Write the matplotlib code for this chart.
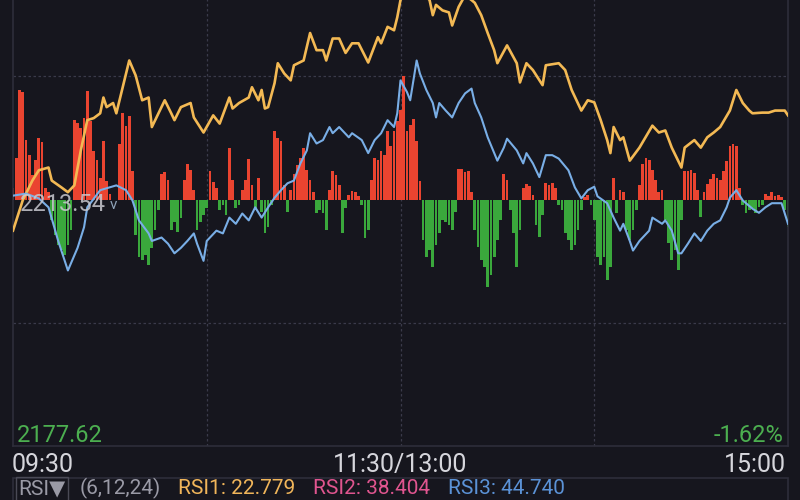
import matplotlib.pyplot as plt
from matplotlib.patches import Rectangle

plt.rcParams['font.family'] = ['Roboto', 'DejaVu Sans']

# axis anchors
prev_close = 2213.54
low_price = 2177.62
pct_text = "-1.62%"
time_labels = ["09:30", "11:30/13:00", "15:00"]
rsi_head = ["RSI\u25BC", "(6,12,24)"]
rsi_labels = ["RSI1: 22.779", "RSI2: 38.404", "RSI3: 44.740"]

# orange line (minute, price)
price_min = [0, 3, 6, 8, 11, 12, 15, 17, 19, 21, 23, 25, 27, 28, 29, 31, 32, 36, 38, 40,
             42, 43, 47, 49, 50, 52, 55, 56, 59, 62, 64, 67, 68, 70, 73, 74, 76, 77, 78, 79,
             81, 82, 84, 86, 87, 90, 92, 94, 96, 97, 99, 101, 103, 105, 107, 110, 113, 114, 116, 118,
             119, 120, 123, 126, 129, 130, 131, 133, 135, 136, 138, 140, 142, 143, 145, 147, 149, 150, 153, 156,
             157, 159, 161, 164, 165, 169, 171, 173, 176, 178, 180, 182, 184, 185, 186, 188, 189, 191, 194, 198,
             200, 202, 204, 207, 208, 211, 213, 215, 217, 219, 222, 224, 226, 228, 229, 232, 234, 236, 239, 240]
price_val = [2209.0, 2213.4, 2216.3, 2217.8, 2218.2, 2216.3, 2215.3, 2214.6, 2215.6, 2220.7,
             2225.1, 2225.4, 2226.1, 2228.4, 2227.0, 2227.6, 2226.1, 2233.8, 2231.6, 2228.0,
             2228.4, 2224.1, 2228.0, 2226.1, 2225.1, 2227.0, 2227.6, 2225.5, 2223.3, 2225.8,
             2224.6, 2228.4, 2226.8, 2227.6, 2228.4, 2229.9, 2228.0, 2229.5, 2226.8, 2227.0,
             2230.5, 2233.4, 2231.9, 2230.9, 2233.1, 2233.8, 2237.8, 2235.3, 2235.3, 2233.8,
             2237.0, 2237.0, 2234.9, 2236.3, 2236.3, 2233.5, 2237.2, 2236.3, 2238.7, 2238.2,
             2240.1, 2242.6, 2244.8, 2244.1, 2242.6, 2240.4, 2241.9, 2241.1, 2240.8, 2238.9,
             2241.6, 2243.3, 2242.6, 2242.2, 2240.4, 2237.8, 2235.3, 2233.4, 2236.0, 2233.4,
             2230.6, 2233.4, 2232.4, 2230.2, 2233.1, 2233.4, 2232.4, 2229.5, 2226.5, 2228.0,
             2227.7, 2225.1, 2222.2, 2220.3, 2224.1, 2222.2, 2222.6, 2219.2, 2221.1, 2224.3,
             2223.3, 2223.6, 2221.1, 2218.2, 2221.1, 2222.2, 2221.1, 2222.6, 2223.3, 2224.1,
             2226.5, 2229.5, 2227.6, 2226.5, 2226.1, 2226.2, 2226.2, 2226.5, 2226.5, 2225.8]

# blue line (minute, price)
avg_min = [0, 4, 8, 11, 14, 17, 20, 22, 23, 27, 32, 35, 37, 39, 42, 43, 46, 48, 50, 52,
           54, 56, 57, 59, 60, 63, 65, 67, 69, 71, 73, 75, 77, 79, 81, 83, 85, 87, 89, 91,
           92, 94, 96, 98, 99, 101, 104, 105, 108, 110, 112, 114, 116, 118, 119, 120, 122, 123, 125, 126,
           128, 130, 131, 132, 134, 136, 138, 140, 142, 143, 145, 147, 150, 152, 153, 156, 158, 159, 161, 163,
           165, 167, 169, 172, 174, 176, 178, 180, 181, 184, 186, 188, 189, 191, 192, 194, 197, 198, 201, 202,
           204, 206, 207, 209, 211, 213, 215, 217, 219, 221, 222, 224, 226, 229, 231, 233, 235, 238, 239, 240]
avg_val = [2214.1, 2214.4, 2213.7, 2212.4, 2207.5, 2203.2, 2206.5, 2209.5, 2212.4, 2214.9,
           2215.6, 2214.9, 2213.4, 2210.5, 2208.6, 2207.5, 2208.0, 2207.1, 2205.7, 2206.5,
           2207.5, 2208.6, 2207.1, 2204.6, 2207.5, 2209.0, 2208.6, 2210.9, 2210.0, 2211.5,
           2210.5, 2212.4, 2210.9, 2212.4, 2213.8, 2214.9, 2215.9, 2216.3, 2218.8, 2220.7,
           2223.2, 2221.7, 2222.2, 2224.1, 2223.2, 2224.1, 2222.6, 2223.2, 2222.2, 2220.3,
           2222.2, 2223.2, 2225.1, 2224.1, 2226.1, 2230.9, 2229.2, 2228.0, 2233.8, 2231.9,
           2229.5, 2227.6, 2225.5, 2227.6, 2226.5, 2225.5, 2227.6, 2229.0, 2229.7, 2227.6,
           2225.5, 2222.6, 2219.2, 2221.1, 2222.4, 2220.7, 2218.8, 2220.3, 2218.8, 2216.8,
           2220.0, 2220.0, 2219.5, 2217.8, 2215.3, 2213.7, 2214.9, 2215.4, 2214.0, 2213.0,
           2210.9, 2209.0, 2210.0, 2207.5, 2206.1, 2207.5, 2209.0, 2210.9, 2210.0, 2210.5,
           2209.0, 2205.7, 2205.7, 2207.1, 2208.6, 2207.5, 2209.0, 2210.0, 2210.5, 2212.4,
           2213.8, 2214.9, 2213.4, 2212.2, 2211.6, 2212.4, 2213.0, 2213.0, 2211.5, 2210.0]

# per-minute bars, positive = red, negative = green (one value per minute 0..240)
flow = [12, 42, 110, 108, 60, 45, 25, 40, 62, 58,
        12, 8, -20, -35, -45, -50, -55, -45, -30, 80,
        77, 72, 82, 109, 79, 49, 40, 22, 59, 19,
        6, 0, 0, 56, 87, 74, 84, 29, -35, -57,
        -60, -55, -65, -48, -30, -10, 26, 28, 20, -30,
        -22, -32, -18, 20, 36, 30, 10, -30, -22, -15,
        -8, 29, 18, 12, -10, -5, -15, 52, 20, -8,
        -5, 10, 20, 41, 15, -10, 22, -12, -33, -27,
        -5, 69, 62, 59, 15, -12, 10, 26, 35, 42,
        52, 30, 20, 8, -13, -10, -13, -30, 10, 29,
        25, 15, -33, -8, 5, 9, 8, 4, -5, -38,
        -30, 20, 42, 40, 49, 45, 69, 54, 69, 79,
        90, 124, 69, 75, 81, 59, 19, -40, -57, -50,
        -67, -45, -33, -20, -22, -25, -30, -12, 31, 31,
        28, 29, 8, -30, -47, -60, -67, -87, -75, -57,
        -40, -20, 26, 20, -10, -33, -67, -30, 12, 16,
        14, 5, -25, -37, -15, 17, 15, 17, 12, -5,
        -10, -33, -40, -50, -45, -30, -10, 3, 5, -5,
        -20, -57, -65, -57, -80, -67, 22, -13, 10, 8,
        -30, -40, -30, -10, 15, 36, 42, 40, 30, 20,
        8, 10, -20, -43, -60, -50, -70, -20, 29, 29,
        30, 27, 10, -17, 8, 16, 21, 26, 22, 20,
        29, 39, 54, 56, 54, 12, -5, -13, -10, -8,
        -13, -7, -5, 6, 4, 8, 4, 5, 3, -10,
        -27]

bg = '#16161e'
grid_c = '#3a3a4a'
red = '#ea4430'
green = '#3aa83c'
orange = '#f3b954'
blue = '#79aee6'

fig = plt.figure(figsize=(8, 5), dpi=100, facecolor=bg)
# panel spans x 13..788 px, bottom at 446 px, top is cut off above the picture
ax = fig.add_axes([13 / 800, 54 / 500, 775 / 800, 493 / 500])
ax.set_facecolor(bg)
half = prev_close - low_price
ax.set_xlim(0, 240)
ax.set_ylim(-246.5, 246.5)

minutes = list(range(len(flow)))
cols = [red if v > 0 else green for v in flow]
ax.bar(minutes, flow, width=0.85, color=cols, linewidth=0, zorder=2)

# grid
for gx in [60, 120, 180]:
    ax.axvline(gx, color=grid_c, lw=0.9, ls=(0, (2, 2)), zorder=1)
for gy in [123.25, -123.25]:
    ax.axhline(gy, color=grid_c, lw=0.9, ls=(0, (2, 2)), zorder=1)

ax2 = ax.twinx()
ax2.set_ylim(low_price, prev_close + half)
ax2.plot(price_min, price_val, color=orange, lw=1.9, zorder=3)
ax2.plot(avg_min, avg_val, color=blue, lw=1.5, zorder=3)

for a in (ax, ax2):
    a.set_xticks([])
    a.set_yticks([])
    for s in a.spines.values():
        s.set_visible(False)
for s in ('left', 'right', 'bottom'):
    ax.spines[s].set_visible(True)
    ax.spines[s].set_color('#2e2e3a')
    ax.spines[s].set_linewidth(1.2)

# labels
fig.text(20 / 800, 0.578, f"{prev_close:.2f}", color='#c9c9d0', fontsize=17, alpha=0.85)
fig.text(110 / 800, 0.582, "v", color='#8fa3b8', fontsize=11)
fig.text(17 / 800, 0.116, f"{low_price:.2f}", color='#4caf50', fontsize=17)
fig.text(784 / 800, 0.116, pct_text, color='#4caf50', fontsize=17, ha='right')

fig.text(12 / 800, 0.056, time_labels[0], color='#d6d6dc', fontsize=18)
fig.text(400 / 800, 0.056, time_labels[1], color='#d6d6dc', fontsize=18, ha='center')
fig.text(786 / 800, 0.056, time_labels[2], color='#d6d6dc', fontsize=18, ha='right')

# bottom indicator strip
fig.patches.append(Rectangle((13 / 800, -0.1), 775 / 800, 0.1 + 22 / 500,
                             transform=fig.transFigure, fill=False,
                             edgecolor='#2e2e3a', lw=1.2))
ty = 0.012
fig.text(18 / 800, ty, rsi_head[0], color='#9a9aa6', fontsize=15,
         bbox=dict(boxstyle='square,pad=0.12', fc='none', ec='#4a4a56', lw=1))
fig.text(80 / 800, ty, rsi_head[1], color='#9a9aa6', fontsize=15)
fig.text(178 / 800, ty, rsi_labels[0], color='#f0b55a', fontsize=15)
fig.text(313 / 800, ty, rsi_labels[1], color='#e0558f', fontsize=15)
fig.text(448 / 800, ty, rsi_labels[2], color='#5b92d6', fontsize=15)

fig.savefig('out.png', dpi=100, facecolor=bg)
